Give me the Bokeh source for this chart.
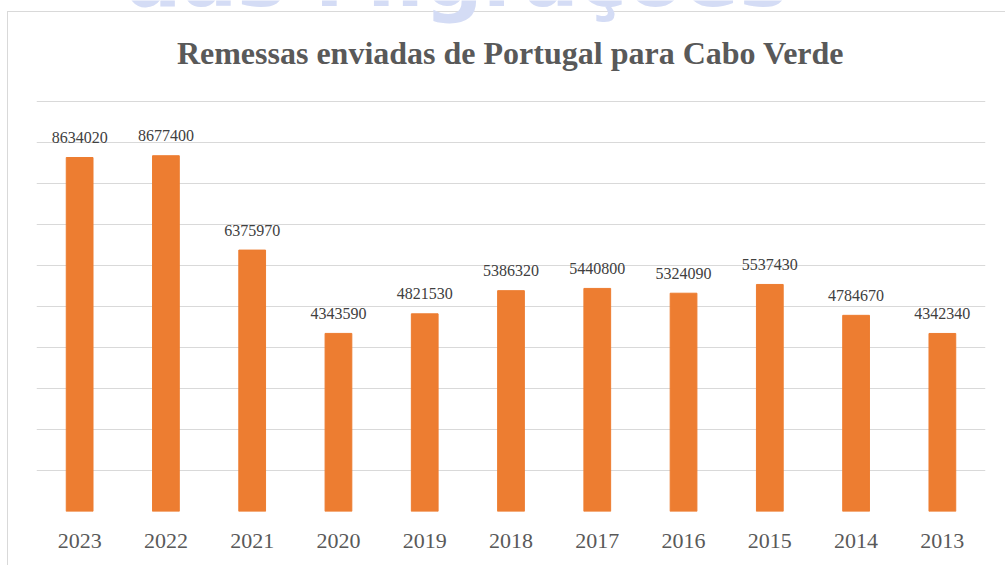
from bokeh.plotting import figure
from bokeh.models import (ColumnDataSource, Range1d, FactorRange, FixedTicker,
                          LabelSet, Label)
from bokeh.embed import file_html
from bokeh.resources import INLINE

years = ["2023", "2022", "2021", "2020", "2019", "2018", "2017", "2016", "2015", "2014", "2013"]
remessas = [8634020, 8677400, 6375970, 4343590, 4821530, 5386320, 5440800, 5324090, 5537430, 4784670, 4342340]
title_text = "Remessas enviadas de Portugal para Cabo Verde"
watermark_text = "das Migrações"
y_ticks = [0, 1000000, 2000000, 3000000, 4000000, 5000000, 6000000, 7000000, 8000000, 9000000, 10000000]

src = ColumnDataSource(dict(year=years, val=remessas, lab=[str(v) for v in remessas]))

# frame spans from canvas top (y=0) to y=511; 10M sits at y=101
p = figure(width=1005, height=565, x_range=FactorRange(*years), y_range=Range1d(0, 12463415),
           output_backend="svg", toolbar_location=None,
           min_border_left=36, min_border_right=20, min_border_top=0, min_border_bottom=54)
p.outline_line_color = None
p.background_fill_color = None
p.border_fill_color = None
p.styles = {"background": "linear-gradient(#d9d9d9,#d9d9d9) 7px 11px / 1px 560px no-repeat, "
                          "linear-gradient(#d9d9d9,#d9d9d9) 7px 11px / 1000px 1px no-repeat, #ffffff"}

p.vbar(x="year", top="val", width=0.31, source=src, color="#ED7D31")

p.yaxis.visible = False
p.yaxis.ticker = FixedTicker(ticks=y_ticks)
p.ygrid.ticker = FixedTicker(ticks=y_ticks)
p.ygrid.grid_line_color = "#d9d9d9"
p.ygrid.grid_line_width = 1
p.xgrid.visible = False

xa = p.xaxis[0]
xa.axis_line_color = None
xa.major_tick_line_color = None
xa.minor_tick_line_color = None
xa.major_tick_out = 0
xa.major_label_standoff = 22
xa.major_label_text_font = "Liberation Serif"
xa.major_label_text_font_size = "22px"
xa.major_label_text_color = "#595959"

labels = LabelSet(x="year", y="val", text="lab", source=src, y_offset=20,
                  text_align="center", text_baseline="middle",
                  text_font="Liberation Serif", text_font_size="16px", text_color="#404040")
p.add_layout(labels)

# title (screen units, relative to the frame's bottom-left corner)
p.add_layout(Label(x=474, y=459, x_units="screen", y_units="screen", text=title_text,
                   text_align="center", text_baseline="middle",
                   text_font="Liberation Serif", text_font_style="bold",
                   text_font_size="32px", text_color="#595959"))

# watermark (partly cut by the top edge, as in the reference)
p.add_layout(Label(x=419, y=534, x_units="screen", y_units="screen", text=watermark_text,
                   text_align="center", text_baseline="alphabetic",
                   text_font="DejaVu Sans", text_font_style="bold",
                   text_font_size="82px", text_color="#d4dcf5"))

open("out.html", "w").write(file_html(p, INLINE))
